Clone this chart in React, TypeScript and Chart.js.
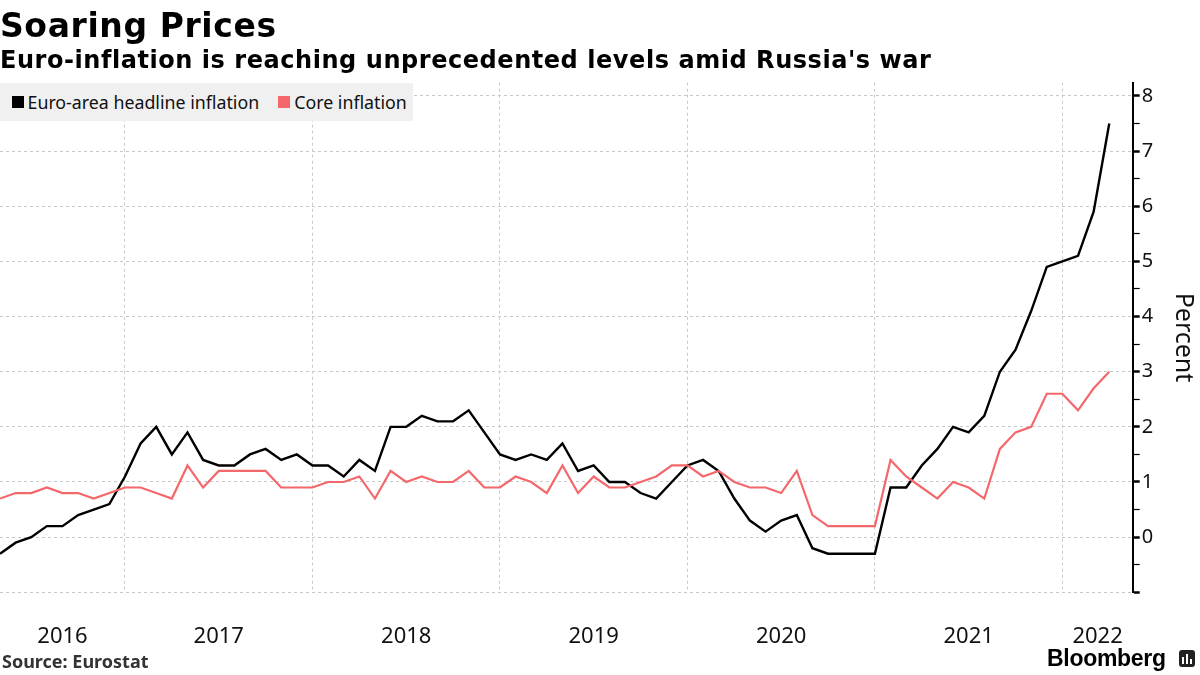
import React, { useEffect, useRef } from "react";
import { Chart, registerables } from "chart.js";

Chart.register(...registerables);

const TITLE = "Soaring Prices";
const SUBTITLE = "Euro-inflation is reaching unprecedented levels amid Russia's war";
const SERIES_NAMES = ["Euro-area headline inflation", "Core inflation"];
const SOURCE = "Source: Eurostat";
const BRAND = "Bloomberg";
const Y_TITLE = "Percent";

// Monthly values, Apr 2016 – Mar 2022 (year-on-year, %)
const START_YEAR = 2016;
const START_MONTH = 4;
const headline = [
  -0.3, -0.1, 0.0, 0.2, 0.2, 0.4, 0.5, 0.6, 1.1,
  1.7, 2.0, 1.5, 1.9, 1.4, 1.3, 1.3, 1.5, 1.6, 1.4, 1.5, 1.3,
  1.3, 1.1, 1.4, 1.2, 2.0, 2.0, 2.2, 2.1, 2.1, 2.3, 1.9, 1.5,
  1.4, 1.5, 1.4, 1.7, 1.2, 1.3, 1.0, 1.0, 0.8, 0.7, 1.0, 1.3,
  1.4, 1.2, 0.7, 0.3, 0.1, 0.3, 0.4, -0.2, -0.3, -0.3, -0.3, -0.3,
  0.9, 0.9, 1.3, 1.6, 2.0, 1.9, 2.2, 3.0, 3.4, 4.1, 4.9, 5.0,
  5.1, 5.9, 7.5,
];
const core = [
  0.7, 0.8, 0.8, 0.9, 0.8, 0.8, 0.7, 0.8, 0.9,
  0.9, 0.8, 0.7, 1.3, 0.9, 1.2, 1.2, 1.2, 1.2, 0.9, 0.9, 0.9,
  1.0, 1.0, 1.1, 0.7, 1.2, 1.0, 1.1, 1.0, 1.0, 1.2, 0.9, 0.9,
  1.1, 1.0, 0.8, 1.3, 0.8, 1.1, 0.9, 0.9, 1.0, 1.1, 1.3, 1.3,
  1.1, 1.2, 1.0, 0.9, 0.9, 0.8, 1.2, 0.4, 0.2, 0.2, 0.2, 0.2,
  1.4, 1.1, 0.9, 0.7, 1.0, 0.9, 0.7, 1.6, 1.9, 2.0, 2.6, 2.6,
  2.3, 2.7, 3.0,
];
const YEARS = ["2016", "2017", "2018", "2019", "2020", "2021", "2022"];
const Y_LABELS = ["0", "1", "2", "3", "4", "5", "6", "7", "8"];
const Y_MIN = -1;
const Y_MAX = 8.24;
const X_MAX = 72.5;

const HEAD_COLOR = "#000000";
const CORE_COLOR = "#f4676a";
const GRID_COLOR = "#c9c9c9";

// year boundaries (gridlines) sit on the December point of the previous year
const boundaries = YEARS.slice(1).map(
  (y) => (Number(y) - 1 - START_YEAR) * 12 + (12 - START_MONTH)
);
const edges = [0, ...boundaries, X_MAX];
const mids = YEARS.map((_, k) => (edges[k] + edges[k + 1]) / 2);
const xTicks = [...boundaries, ...mids].sort((a, b) => a - b);
const yTicks: number[] = [];
for (let v = Y_MIN; v <= 8; v += 0.5) yTicks.push(v);

const CHART_TOP = 82.7;
const CHART_BOTTOM = 592.3;
const CHART_RIGHT = 1132.7;

export default function App() {
  const ref = useRef<HTMLCanvasElement | null>(null);

  useEffect(() => {
    document.body.style.margin = "0";
    const canvas = ref.current;
    if (!canvas) return;
    const chart = new Chart(canvas, {
      type: "line",
      data: {
        datasets: [
          {
            label: SERIES_NAMES[0],
            data: headline.map((y, i) => ({ x: i, y })),
            borderColor: HEAD_COLOR,
            backgroundColor: HEAD_COLOR,
            borderWidth: 2.4,
            pointRadius: 0,
            tension: 0,
            order: 2,
          },
          {
            label: SERIES_NAMES[1],
            data: core.map((y, i) => ({ x: i, y })),
            borderColor: CORE_COLOR,
            backgroundColor: CORE_COLOR,
            borderWidth: 2.2,
            pointRadius: 0,
            tension: 0,
            order: 1,
          },
        ],
      },
      options: {
        animation: false,
        responsive: false,
        devicePixelRatio: 1,
        layout: { padding: { top: CHART_TOP, left: 0, right: 0, bottom: 0 } },
        plugins: {
          legend: { display: false },
          tooltip: { enabled: false },
          title: { display: false },
        },
        scales: {
          x: {
            type: "linear",
            position: "bottom",
            min: 0,
            max: X_MAX,
            afterBuildTicks: (s: any) => {
              s.ticks = xTicks.map((v) => ({ value: v }));
            },
            afterFit: (s: any) => {
              s.height = 675 - CHART_BOTTOM;
            },
            grid: {
              color: (ctx: any) =>
                ctx.tick && boundaries.includes(ctx.tick.value)
                  ? GRID_COLOR
                  : "rgba(0,0,0,0)",
              lineWidth: 1,
              drawTicks: false,
            },
            border: { display: false, dash: [3, 3] },
            ticks: {
              autoSkip: false,
              maxRotation: 0,
              minRotation: 0,
              padding: 31,
              color: "#111",
              font: { family: "Noto Sans", size: 22 },
              callback: (v: any) => {
                const k = mids.indexOf(Number(v));
                return k >= 0 ? YEARS[k] : "";
              },
            },
          },
          y: {
            type: "linear",
            position: "right",
            min: Y_MIN,
            max: Y_MAX,
            afterBuildTicks: (s: any) => {
              s.ticks = yTicks.map((v) => ({ value: v }));
            },
            afterFit: (s: any) => {
              s.width = 1200 - CHART_RIGHT;
            },
            grid: {
              color: (ctx: any) =>
                ctx.tick && Number.isInteger(ctx.tick.value)
                  ? GRID_COLOR
                  : "rgba(0,0,0,0)",
              lineWidth: 1,
              drawTicks: true,
              tickLength: 7,
              tickColor: "#000",
              tickWidth: (ctx: any) =>
                ctx.tick && Number.isInteger(ctx.tick.value) ? 2.5 : 1.2,
            },
            border: { display: true, color: "#000", width: 2, dash: [3, 3] },
            ticks: {
              padding: 2,
              color: "#111",
              font: { family: "Noto Sans", size: 20 },
              callback: (v: any) => {
                const n = Number(v);
                return Number.isInteger(n) && n >= 0 ? Y_LABELS[n] : "";
              },
            },
            title: {
              display: true,
              text: Y_TITLE,
              color: "#111",
              font: { family: "Noto Sans", size: 25 },
              padding: { top: 2, bottom: 0 },
            },
          },
        },
      },
    } as any);
    return () => chart.destroy();
  }, []);

  const abs: React.CSSProperties = { position: "absolute", whiteSpace: "nowrap" };

  return (
    <div
      style={{
        position: "fixed",
        left: 0,
        top: 0,
        width: 1200,
        height: 675,
        background: "#fff",
        overflow: "hidden",
      }}
    >
      <canvas
        ref={ref}
        width={1200}
        height={675}
        style={{ position: "absolute", left: 0, top: 0, width: 1200, height: 675 }}
      />
      <div
        style={{
          ...abs,
          left: 0,
          top: 9,
          font: "bold 33px 'DejaVu Sans'",
          lineHeight: "33px",
          letterSpacing: "0.6px",
          color: "#000",
        }}
      >
        {TITLE}
      </div>
      <div
        style={{
          ...abs,
          left: 0,
          top: 47.5,
          font: "bold 24px 'DejaVu Sans'",
          lineHeight: "24px",
          letterSpacing: "0.55px",
          color: "#000",
        }}
      >
        {SUBTITLE}
      </div>
      <div
        style={{
          ...abs,
          left: 0,
          top: 82.7,
          width: 413,
          height: 38,
          background: "#f0f0f0",
          display: "flex",
          alignItems: "center",
          font: "17.8px 'Noto Sans'",
          color: "#111",
        }}
      >
        <span
          style={{ display: "inline-block", width: 12, height: 12, background: HEAD_COLOR, marginLeft: 11.5, marginRight: 4 }}
        />
        <span>{SERIES_NAMES[0]}</span>
        <span
          style={{ display: "inline-block", width: 12, height: 12, background: CORE_COLOR, marginLeft: 19, marginRight: 4 }}
        />
        <span>{SERIES_NAMES[1]}</span>
      </div>
      <div
        style={{
          ...abs,
          left: 2,
          top: 649,
          font: "bold 18px 'Noto Sans'",
          color: "#333",
        }}
      >
        {SOURCE}
      </div>
      <div
        style={{
          ...abs,
          left: 1047,
          top: 645,
          font: "bold 23px 'Liberation Sans'",
          color: "#000",
          letterSpacing: "-0.3px",
        }}
      >
        {BRAND}
      </div>
      <div
        style={{
          position: "absolute",
          left: 1179,
          top: 650,
          width: 16,
          height: 17,
          background: "#222",
          borderRadius: 3,
          display: "flex",
          alignItems: "flex-end",
          justifyContent: "center",
          gap: 2,
          paddingBottom: 3,
          boxSizing: "border-box",
        }}
      >
        <span style={{ width: 2, height: 7, background: "#fff" }} />
        <span style={{ width: 2, height: 10, background: "#fff" }} />
        <span style={{ width: 2, height: 5, background: "#fff" }} />
      </div>
    </div>
  );
}
